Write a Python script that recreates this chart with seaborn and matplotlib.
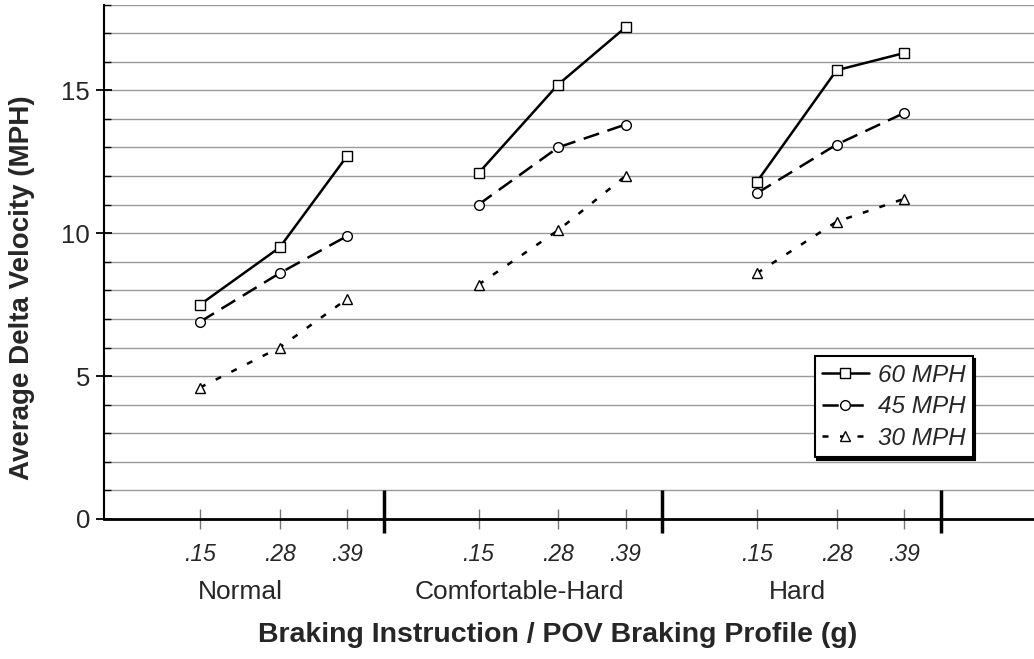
import numpy as np
import pandas as pd
import matplotlib
matplotlib.use("Agg")
import matplotlib.pyplot as plt
from matplotlib.lines import Line2D
from matplotlib.ticker import MultipleLocator, FixedLocator
import seaborn as sns

# ---- data ----
groups = ["Normal", "Comfortable-Hard", "Hard"]
g_values = [0.15, 0.28, 0.39]
g_labels = [".15", ".28", ".39"]
speeds = ["60 MPH", "45 MPH", "30 MPH"]
v60 = [7.5, 9.5, 12.7, 12.1, 15.2, 17.2, 11.8, 15.7, 16.3]
v45 = [6.9, 8.6, 9.9, 11.0, 13.0, 13.8, 11.4, 13.1, 14.2]
v30 = [4.6, 6.0, 7.7, 8.2, 10.1, 12.0, 8.6, 10.4, 11.2]
yticks = [0, 5, 10, 15]

series = {"60 MPH": v60, "45 MPH": v45, "30 MPH": v30}
rows = []
for sp in speeds:
    vals = series[sp]
    k = 0
    for gi, grp in enumerate(groups):
        for g in g_values:
            rows.append({"x": gi + (g - 0.15) * 2.2, "v": vals[k],
                         "speed": sp, "group": grp})
            k += 1
df = pd.DataFrame(rows)

sns.set_theme(style="white")
plt.rcParams["font.family"] = ["Liberation Sans", "DejaVu Sans"]

fig = plt.figure(figsize=(10.34, 6.59), dpi=100)
ax = fig.add_axes([104 / 1034, 1 - 519 / 659, 930 / 1034, 514.5 / 659])

markers = {"60 MPH": "s", "45 MPH": "o", "30 MPH": "^"}
dashes = {"60 MPH": "", "45 MPH": (6.5, 3.5), "30 MPH": (2.4, 4.6)}
palette = {s: "black" for s in speeds}

sns.lineplot(data=df, x="x", y="v", hue="speed", style="speed", units="group",
             estimator=None, markers=markers, dashes=dashes, palette=palette,
             linewidth=1.8, markersize=7, markerfacecolor="white",
             markeredgecolor="black", markeredgewidth=1.0, legend=False, ax=ax,
             zorder=3)

ax.set_xlim(-0.345, 2.995)
ax.set_ylim(0, 18)

# y axis
ax.yaxis.set_major_locator(FixedLocator(yticks))
ax.yaxis.set_minor_locator(MultipleLocator(1))
ax.set_yticklabels([str(t) for t in yticks])
ax.tick_params(axis="y", which="major", direction="inout", length=12, width=1.3,
               color="black", labelsize=18.5, pad=4, left=True)
ax.tick_params(axis="y", which="minor", direction="in", length=5, width=1.0,
               color="black", left=True)
ax.yaxis.grid(True, which="both", color="#9a9a9a", linewidth=1.0)
ax.set_axisbelow(True)

# x axis ticks at the braking profiles
xt = [gi + (g - 0.15) * 2.2 for gi in range(len(groups)) for g in g_values]
ax.set_xticks(xt)
ax.set_xticklabels(g_labels * len(groups), fontstyle="italic")
ax.tick_params(axis="x", which="major", direction="inout", length=14, width=1.0,
               color="#777777", labelsize=16.5, pad=10, bottom=True)

for s in ["top", "right"]:
    ax.spines[s].set_visible(False)
ax.spines["left"].set_color("black")
ax.spines["left"].set_linewidth(1.5)
ax.spines["bottom"].set_color("black")
ax.spines["bottom"].set_linewidth(2.0)

# group separators
ax.vlines([gi + 0.66 for gi in range(len(groups))], -0.49, 1.0,
          colors="black", linewidth=2.5, clip_on=False, zorder=4)

# group labels
for gi, grp in enumerate(groups):
    ax.text(gi + 0.145, -0.142, grp, transform=ax.get_xaxis_transform(),
            ha="center", va="center", fontsize=19)

ax.set_xlabel("Braking Instruction / POV Braking Profile (g)",
              fontsize=20.5, fontweight="bold")
ax.xaxis.label.set_va("center")
ax.xaxis.set_label_coords(0.488, -0.2255)
ax.set_ylabel("Average Delta Velocity (MPH)", fontsize=20, fontweight="bold")
ax.yaxis.label.set_va("center")
ax.yaxis.set_label_coords(-0.088, 0.45)

handles = [
    Line2D([], [], color="black", lw=1.8, marker="s", ms=7, mfc="white",
           mec="black", mew=1.0, label="60 MPH"),
    Line2D([], [], color="black", lw=1.8, marker="o", ms=7, mfc="white",
           mec="black", mew=1.0, dashes=(6.5, 3.5), label="45 MPH"),
    Line2D([], [], color="black", lw=1.8, marker="^", ms=7, mfc="white",
           mec="black", mew=1.0, dashes=(2.4, 4.6), label="30 MPH"),
]
leg = ax.legend(handles=handles, loc="lower right", bbox_to_anchor=(0.934, 0.1205),
                borderaxespad=0, fancybox=False, framealpha=1, edgecolor="black",
                shadow={"color": "black", "alpha": 1.0}, handlelength=1.95,
                handletextpad=0.35, labelspacing=0.35, borderpad=0.3,
                prop={"size": 17.5, "style": "italic"})
leg.get_frame().set_linewidth(1.5)

fig.savefig("out.png", dpi=100)
